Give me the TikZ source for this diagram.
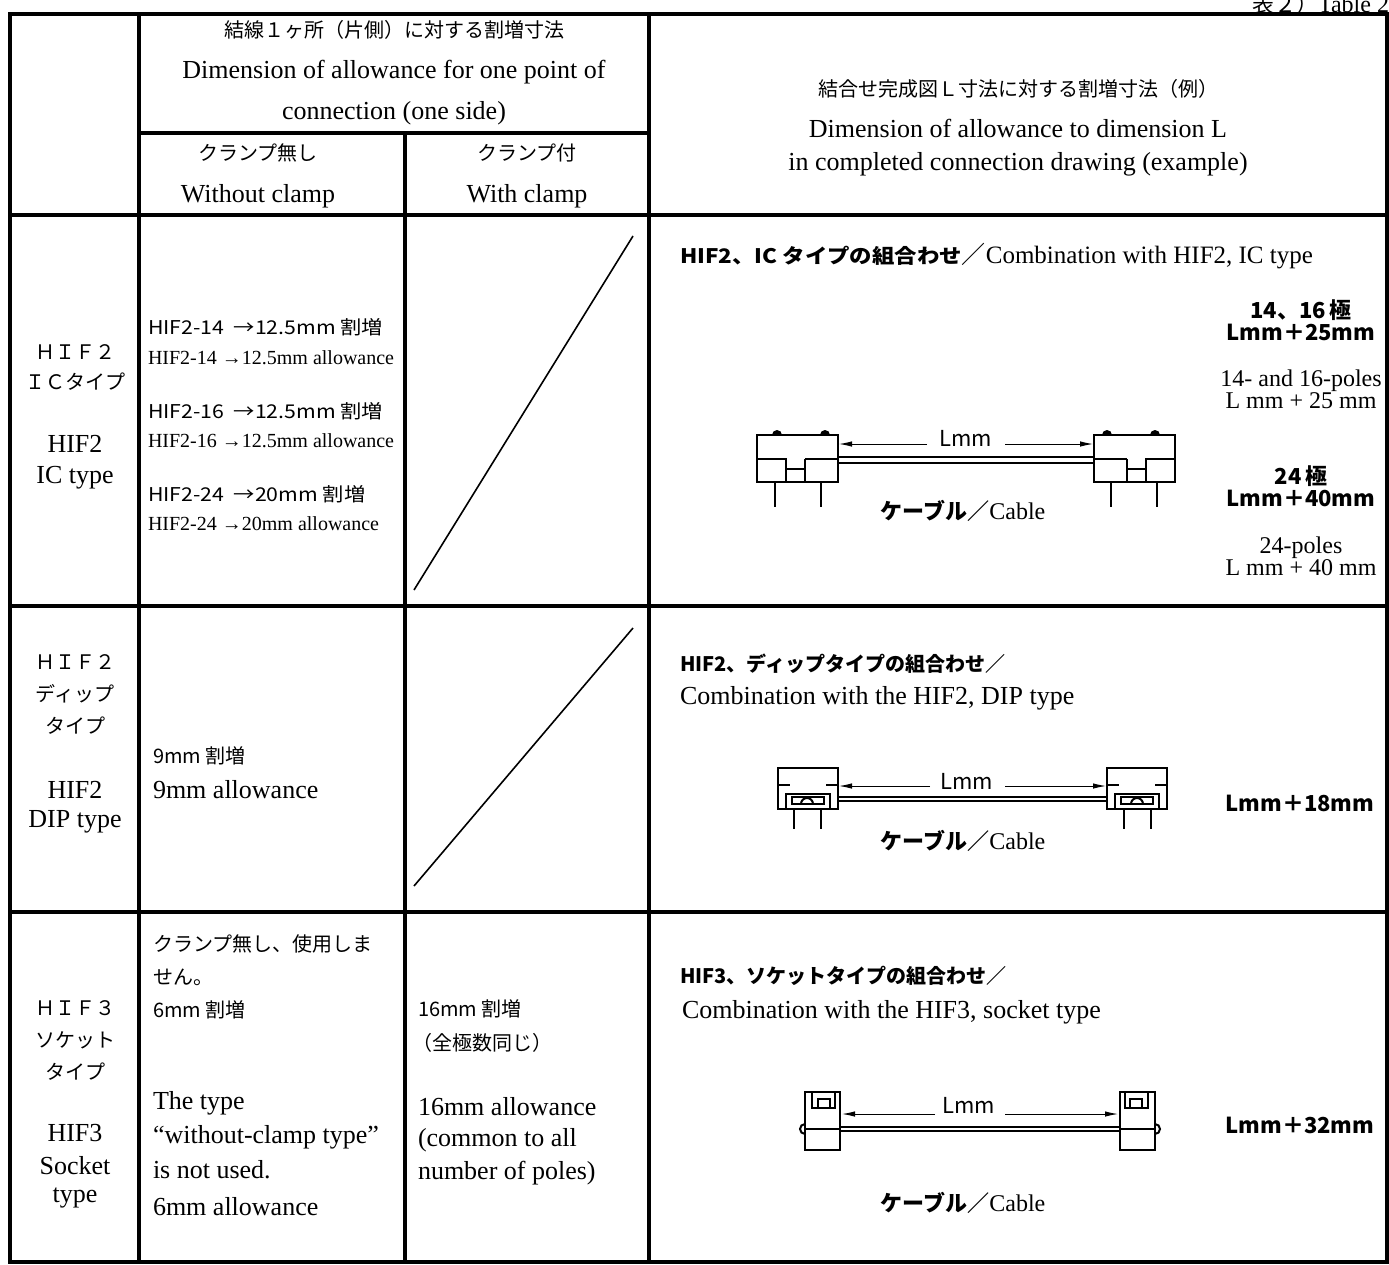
\documentclass[tikz,border=0pt]{standalone}
\usepackage{fontspec}
\setmainfont{Liberation Serif}
\newfontfamily\jp{Noto Sans CJK JP}
\newfontfamily\jpw{Noto Sans CJK JP}[FakeStretch=1.12]
\usetikzlibrary{arrows.meta}
\begin{document}
\begin{tikzpicture}[x=1pt,y=-1pt,
  frame/.style={line width=3.2pt},
  diag/.style={line width=1.6pt},
  part/.style={line width=2.8pt},
  inner/.style={line width=2pt},
  cablel/.style={line width=1.2pt},
  dimarrow/.style={line width=1pt,-{Latex[length=13pt,width=5.5pt]}},
  txt/.style={inner sep=0pt,outer sep=0pt},
  serA/.style={txt,font=\fontsize{26}{30}\selectfont},
  serB/.style={txt,font=\fontsize{20}{24}\selectfont},
  serC/.style={txt,font=\fontsize{24}{22}\selectfont,align=center},
  jpA/.style={txt,font=\jp\fontsize{20}{24}\selectfont},
  jpB/.style={txt,font=\jpw\fontsize{19}{22}\selectfont},
  jpC/.style={txt,font=\jp\bfseries\fontsize{20}{24}\selectfont},
  jpD/.style={txt,font=\jp\bfseries\fontsize{22}{22}\selectfont,align=center},
  dot/.style={fill=black,draw=none}]
\useasboundingbox (0,0) rectangle (1389,1264);
\fill[white] (0,0) rectangle (1389,1264);

% caption
\node[txt,anchor=east] (cap) at (1389,4) {{\jp\fontsize{22}{24}\selectfont 表２）}\fontsize{24}{26}\selectfont Table 2};

% table grid
\draw[frame] (10,14) rectangle (1387,1262);
\draw[frame] (139,14) -- (139,1262);
\draw[frame] (649,14) -- (649,1262);
\draw[frame] (139,133) -- (649,133);
\draw[frame] (405,133) -- (405,1262);
\draw[frame] (10,215) -- (1387,215);
\draw[frame] (10,606) -- (1387,606);
\draw[frame] (10,912) -- (1387,912);

% header
\node[jpA] (h1) at (394,30) {結線１ヶ所（片側）に対する割増寸法};
\node[serA] (h2) at (394,72) {Dimension of allowance for one point of};
\node[serA] (h3) at (394,113) {connection (one side)};
\node[jpA] (h4) at (258,153) {クランプ無し};
\node[serA] (h5) at (258,196) {Without clamp};
\node[jpA] (h6) at (527,153) {クランプ付};
\node[serA] (h7) at (527,196) {With clamp};
\node[jpA] (h8) at (1018,89) {結合せ完成図Ｌ寸法に対する割増寸法（例）};
\node[serA] (h9) at (1018,128) {Dimension of allowance to dimension L};
\node[serA] (h10) at (1018,164) {in completed connection drawing (example)};

% row 1 ------------------------------------------------
\node[jpA] (r1a) at (75,352) {ＨＩＦ２};
\node[jpA] (r1b) at (75,382) {ＩＣタイプ};
\node[serA] (r1c) at (75,444) {HIF2};
\node[serA] (r1d) at (75,478) {IC type};
\node[jpB,anchor=west] (r1e) at (148,327) {HIF2-14\enspace→12.5mm 割増};
\node[serB,anchor=west] (r1f) at (148,358) {HIF2-14 →12.5mm allowance};
\node[jpB,anchor=west] (r1g) at (148,411) {HIF2-16\enspace→12.5mm 割増};
\node[serB,anchor=west] (r1h) at (148,441) {HIF2-16 →12.5mm allowance};
\node[jpB,anchor=west] (r1i) at (148,494) {HIF2-24\enspace→20mm 割増};
\node[serB,anchor=west] (r1j) at (148,524) {HIF2-24 →20mm allowance};
\draw[diag] (633,236) -- (414,590);
\node[txt,anchor=west] (r1k) at (680,256) {{\jpw\bfseries\fontsize{20}{24}\selectfont HIF2、IC タイプの組合わせ}{\jp\fontsize{24}{24}\selectfont ／}{\fontsize{25}{26}\selectfont Combination with HIF2, IC type}};
\node[jpD] (r1l) at (1301,320) {14、16\,極\\Lmm＋25mm};
\node[serC] (r1m) at (1301,389) {14- and 16-poles\\L mm + 25 mm};
\node[jpD] (r1n) at (1301,486) {24\,極\\Lmm＋40mm};
\node[serC] (r1o) at (1301,556) {24-poles\\L mm + 40 mm};
% IC connectors
\draw[part] (757,435) rectangle (838,482);
\draw[inner] (757,459) -- (786,459) -- (786,482) (786,469) -- (805,469) (805,459) -- (805,482) (805,459) -- (838,459);
\draw[part] (775,482) -- (775,507) (821,482) -- (821,507);
\fill[dot] (772,435) arc (180:360:5) -- cycle;
\fill[dot] (820,435) arc (180:360:5) -- cycle;
\draw[part] (1094,435) rectangle (1175,482);
\draw[inner] (1175,459) -- (1146,459) -- (1146,482) (1146,469) -- (1127,469) (1127,459) -- (1127,482) (1127,459) -- (1094,459);
\draw[part] (1157,482) -- (1157,507) (1111,482) -- (1111,507);
\fill[dot] (1150,435) arc (180:360:5) -- cycle;
\fill[dot] (1102,435) arc (180:360:5) -- cycle;
\draw[cablel] (838,457) -- (1094,457) (838,463) -- (1094,463);
\node[txt,font=\jp\fontsize{22}{24}\selectfont] (L1) at (966,438) {Lmm};
\coordinate (L1a) at (839,444);
\coordinate (L1b) at (1093,444);
\draw[dimarrow] (927,444) -- (L1a);
\draw[dimarrow] (1005,444) -- (L1b);
\node[txt] (c1) at (963,511) {{\jp\bfseries\fontsize{22}{24}\selectfont ケーブル／}{\fontsize{24}{26}\selectfont Cable}};

% row 2 ------------------------------------------------
\node[jpA] (r2a) at (75,662) {ＨＩＦ２};
\node[jpA] (r2b) at (75,694) {ディップ};
\node[jpA] (r2c) at (75,726) {タイプ};
\node[serA] (r2d) at (75,790) {HIF2};
\node[serA] (r2e) at (75,822) {DIP type};
\node[jpA,anchor=west] (r2f) at (153,756) {9mm 割増};
\node[serA,anchor=west] (r2g) at (153,790) {9mm allowance};
\draw[diag] (633,628) -- (414,886);
\node[jpC,anchor=west] (r2h) at (680,664) {HIF2、ディップタイプの組合わせ／};
\node[serA,anchor=west] (r2i) at (680,698) {Combination with the HIF2, DIP type};
\node[txt,font=\jp\bfseries\fontsize{22}{24}\selectfont] (r2j) at (1300,803) {Lmm＋18mm};
% DIP connectors
\draw[part] (778,768) rectangle (838,809);
\draw[inner] (778,785) -- (790,785) (838,785) -- (826,785);
\draw[inner] (786,809) -- (786,794) -- (830,794) -- (830,809);
\draw[inner] (792,797) rectangle (824,804);
\draw[inner] (801,804) arc (180:360:6);
\draw[part] (794,809) -- (794,829) (821,809) -- (821,829);
\draw[part] (1107,768) rectangle (1167,809);
\draw[inner] (1167,785) -- (1155,785) (1107,785) -- (1119,785);
\draw[inner] (1159,809) -- (1159,794) -- (1115,794) -- (1115,809);
\draw[inner] (1153,797) rectangle (1121,804);
\draw[inner] (1131,804) arc (180:360:6);
\draw[part] (1151,809) -- (1151,829) (1124,809) -- (1124,829);
\draw[cablel] (838,797) -- (1107,797) (838,801) -- (1107,801);
\node[txt,font=\jp\fontsize{22}{24}\selectfont] (L2) at (967,781) {Lmm};
\coordinate (L2a) at (839,786);
\coordinate (L2b) at (1106,786);
\draw[dimarrow] (930,786) -- (L2a);
\draw[dimarrow] (1005,786) -- (L2b);
\node[txt] (c2) at (963,841) {{\jp\bfseries\fontsize{22}{24}\selectfont ケーブル／}{\fontsize{24}{26}\selectfont Cable}};

% row 3 ------------------------------------------------
\node[jpA] (r3a) at (75,1008) {ＨＩＦ３};
\node[jpA] (r3b) at (75,1040) {ソケット};
\node[jpA] (r3c) at (75,1072) {タイプ};
\node[serA] (r3d) at (75,1133) {HIF3};
\node[serA] (r3e) at (75,1166) {Socket};
\node[serA] (r3f) at (75,1198) {type};
\node[jpA,anchor=west] (r3g) at (153,944) {クランプ無し、使用しま};
\node[jpA,anchor=west] (r3h) at (153,977) {せん。};
\node[jpA,anchor=west] (r3i) at (153,1010) {6mm 割増};
\node[serA,anchor=west] (r3j) at (153,1103) {The type};
\node[serA,anchor=west] (r3k) at (153,1137) {“without-clamp type”};
\node[serA,anchor=west] (r3l) at (153,1170) {is not used.};
\node[serA,anchor=west] (r3m) at (153,1207) {6mm allowance};
\node[jpA,anchor=west] (r3n) at (418,1009) {16mm 割増};
\node[jpA,anchor=west] (r3o) at (412,1043) {（全極数同じ）};
\node[serA,anchor=west] (r3p) at (418,1107) {16mm allowance};
\node[serA,anchor=west] (r3q) at (418,1140) {(common to all};
\node[serA,anchor=west] (r3r) at (418,1173) {number of poles)};
\node[jpC,anchor=west] (r3s) at (680,976) {HIF3、ソケットタイプの組合わせ／};
\node[serA,anchor=west] (r3t) at (682,1012) {Combination with the HIF3, socket type};
\node[txt,font=\jp\bfseries\fontsize{22}{24}\selectfont] (r3u) at (1300,1125) {Lmm＋32mm};
% socket connectors
\draw[part] (805,1092) rectangle (840,1150);
\draw[inner] (805,1129) -- (840,1129);
\draw[inner] (812,1092) -- (812,1108) -- (835,1108) -- (835,1092);
\draw[inner] (818,1099) rectangle (830,1108);
\draw[inner] (805,1124) arc (270:90:5);
\draw[part] (1120,1092) rectangle (1155,1150);
\draw[inner] (1120,1129) -- (1155,1129);
\draw[inner] (1148,1092) -- (1148,1108) -- (1125,1108) -- (1125,1092);
\draw[inner] (1142,1099) rectangle (1130,1108);
\draw[inner] (1155,1124) arc (270:450:5);
\draw[cablel] (840,1127) -- (1120,1127) (840,1131) -- (1120,1131);
\node[txt,font=\jp\fontsize{22}{24}\selectfont] (L3) at (969,1105) {Lmm};
\coordinate (L3a) at (842,1114);
\coordinate (L3b) at (1118,1114);
\draw[dimarrow] (935,1114) -- (L3a);
\draw[dimarrow] (1005,1114) -- (L3b);
\node[txt] (c3) at (963,1203) {{\jp\bfseries\fontsize{22}{24}\selectfont ケーブル／}{\fontsize{24}{26}\selectfont Cable}};
\end{tikzpicture}
\end{document}
